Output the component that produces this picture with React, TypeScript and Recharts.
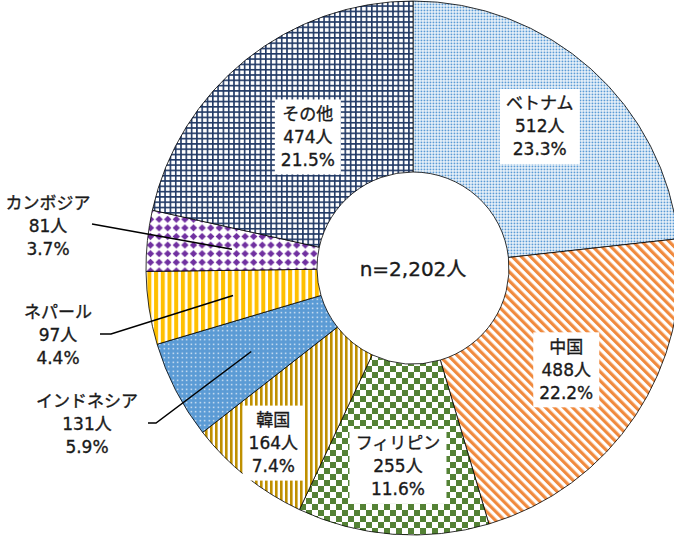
import React from 'react';
import { PieChart, Pie, Cell } from 'recharts';

// 国籍別の人数（n=2,202人）
const countries = ['ベトナム', '中国', 'フィリピン', '韓国', 'インドネシア', 'ネパール', 'カンボジア', 'その他'];
const counts = [512, 488, 255, 164, 131, 97, 81, 474];
const totalLabel = 'n=2,202人';

const patternIds = ['pVietnam', 'pChina', 'pPhilippines', 'pKorea', 'pIndonesia', 'pNepal', 'pCambodia', 'pOther'];

// label placement: inside slices use a radius, outside ones get a text anchor and a leader line
const labelPlaces: any[] = [
  { r: 190 },
  { r: 184 },
  { r: 199 },
  { r: 224 },
  { r: 182, tx: 87, ty: 424, lx: 148, elbow: 156 },
  { r: 182, tx: 58, ty: 335, lx: 100, elbow: 111 },
  { r: 182, tx: 48, ty: 226, lx: 92 },
  { r: 168 },
];

const data = countries.map((name, i) => ({ name, value: counts[i] }));
const total = counts.reduce((a, b) => a + b, 0);

const CX = 413;
const CY = 268;
const FONT = '"DejaVu Sans", "Noto Sans CJK JP", sans-serif';
const FS = 17;
const LH = 23;

const textWidth = (s: string) => {
  let w = 0;
  for (const ch of s) {
    if (/[0-9]/.test(ch)) w += 0.636;
    else if (ch === '.') w += 0.318;
    else if (ch === '%') w += 0.95;
    else w += 1;
  }
  return w * FS;
};

const Patterns = () => (
  <svg width={0} height={0} style={{ position: 'absolute' }}>
    <defs>
      <pattern id="pVietnam" width={3} height={3} patternUnits="userSpaceOnUse">
        <rect width={3} height={3} fill="#fff" />
        <rect x={0.5} y={0.5} width={1.9} height={1.9} fill="#5B9BD5" />
      </pattern>
      <pattern id="pChina" width={6.4} height={6.4} patternUnits="userSpaceOnUse" patternTransform="rotate(-45)">
        <rect width={6.4} height={6.4} fill="#fff" />
        <rect width={3.2} height={6.4} fill="#F08A3E" />
      </pattern>
      <pattern id="pPhilippines" width={12} height={12} patternUnits="userSpaceOnUse">
        <rect width={12} height={12} fill="#fff" />
        <rect width={6} height={6} fill="#548235" />
        <rect x={6} y={6} width={6} height={6} fill="#548235" />
      </pattern>
      <pattern id="pKorea" width={5} height={5} patternUnits="userSpaceOnUse">
        <rect width={5} height={5} fill="#fff" />
        <rect width={2.6} height={5} fill="#BF9000" />
      </pattern>
      <pattern id="pIndonesia" width={4.5} height={4.5} patternUnits="userSpaceOnUse">
        <rect width={4.5} height={4.5} fill="#5B9BD5" />
        <rect x={1.6} y={1.6} width={1.3} height={1.3} fill="#fff" />
      </pattern>
      <pattern id="pNepal" width={6.7} height={6.7} patternUnits="userSpaceOnUse">
        <rect width={6.7} height={6.7} fill="#fff" />
        <rect width={4} height={6.7} fill="#FFC000" />
      </pattern>
      <pattern id="pCambodia" width={8.6} height={8.6} patternUnits="userSpaceOnUse">
        <rect width={8.6} height={8.6} fill="#fff" />
        <path d="M4.3 0.6 L8 4.3 L4.3 8 L0.6 4.3 Z" fill="#7030A0" />
      </pattern>
      <pattern id="pOther" width={5.3} height={5.3} patternUnits="userSpaceOnUse">
        <rect width={5.3} height={5.3} fill="#fff" />
        <rect width={1.6} height={5.3} fill="#203864" />
        <rect width={5.3} height={1.6} fill="#203864" />
      </pattern>
    </defs>
  </svg>
);

const renderLabel = (props: any) => {
  const { midAngle, index } = props;
  const cx = props.cx ?? CX;
  const cy = props.cy ?? CY;
  const place = labelPlaces[index];
  const rad = Math.PI / 180;
  const px = cx + place.r * Math.cos(-midAngle * rad);
  const py = cy + place.r * Math.sin(-midAngle * rad);
  const lines = [countries[index], `${counts[index]}人`, `${((counts[index] / total) * 100).toFixed(1)}%`];
  const outside = place.tx !== undefined;
  const x = outside ? place.tx : px;
  const y = outside ? place.ty : py;
  const w = Math.max(...lines.map(textWidth)) + 12;
  const h = LH * 3 + 6;
  const pts = outside
    ? place.elbow !== undefined
      ? `${place.lx},${y - 1} ${place.elbow},${y - 1} ${px},${py}`
      : `${place.lx},${y - 2} ${px},${py}`
    : '';
  return (
    <g key={`lbl-${index}`}>
      {outside ? (
        <polyline points={pts} fill="none" stroke="#000" strokeWidth={1.5} />
      ) : (
        <rect x={x - w / 2} y={y - h / 2} width={w} height={h} fill="#fff" />
      )}
      {lines.map((s, i) => (
        <text
          key={i}
          x={x}
          y={y + (i - 1) * LH + 6}
          textAnchor="middle"
          fontFamily={FONT}
          fontSize={FS}
          fill="#1a1a1a"
          stroke="#1a1a1a"
          strokeWidth={0.35}
        >
          {s}
        </text>
      ))}
    </g>
  );
};

export default function App() {
  return (
    <div style={{ position: 'absolute', left: 0, top: 0, width: 674, height: 539, background: '#fff' }}>
      <Patterns />
      <PieChart width={674} height={539} margin={{ top: 0, right: 0, bottom: 0, left: 0 }}>
        <Pie
          data={data}
          dataKey="value"
          nameKey="name"
          cx={CX}
          cy={CY}
          innerRadius={96}
          outerRadius={267}
          startAngle={90}
          endAngle={-270}
          stroke="#000"
          strokeWidth={0.8}
          label={renderLabel}
          labelLine={false}
          isAnimationActive={false}
        >
          {data.map((d, i) => (
            <Cell key={d.name} fill={`url(#${patternIds[i]})`} />
          ))}
        </Pie>
        <text
          x={CX}
          y={CY + 8}
          textAnchor="middle"
          fontFamily={FONT}
          fontSize={20}
          fill="#1a1a1a"
          stroke="#1a1a1a"
          strokeWidth={0.35}
        >
          {totalLabel}
        </text>
      </PieChart>
    </div>
  );
}
